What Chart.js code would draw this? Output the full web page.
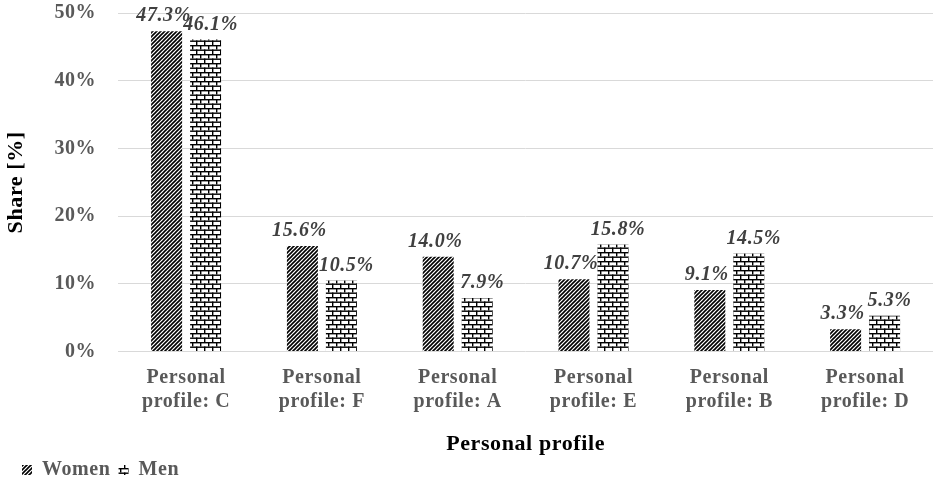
<!DOCTYPE html>
<html><head><meta charset="utf-8">
<script src="https://cdn.jsdelivr.net/npm/chart.js@4"></script>
<style>html,body{margin:0;padding:0;background:#fff}#wrap{width:933px;height:482px;position:relative}</style>
</head><body><div id="wrap"><canvas id="c" width="933" height="482"></canvas></div>
<script>
const categories = [["Personal","profile: C"],["Personal","profile: F"],["Personal","profile: A"],["Personal","profile: E"],["Personal","profile: B"],["Personal","profile: D"]];
const women = [47.3, 15.6, 14.0, 10.7, 9.1, 3.3];
const men = [46.1, 10.5, 7.9, 15.8, 14.5, 5.3];
const yTicks = [0, 10, 20, 30, 40, 50];

function diagPattern(){
  const t=document.createElement('canvas');t.width=4;t.height=4;
  const g=t.getContext('2d');g.fillStyle='#fff';g.fillRect(0,0,4,4);
  g.strokeStyle='#000';g.lineWidth=1.6;
  g.beginPath();
  g.moveTo(-1,5);g.lineTo(5,-1);
  g.moveTo(-1,1);g.lineTo(1,-1);
  g.moveTo(3,5);g.lineTo(5,3);
  g.stroke();
  return t;
}
function brickPattern(){
  const t=document.createElement('canvas');t.width=16;t.height=9;
  const g=t.getContext('2d');g.fillStyle='#fff';g.fillRect(0,0,16,9);
  g.fillStyle='#000';
  g.fillRect(0,0,16,1.4);g.fillRect(0,4.5,16,1.4);
  g.fillRect(0,0,1.4,4.5);g.fillRect(8,0,1.4,4.5);
  g.fillRect(4,4.5,1.4,4.5);g.fillRect(12,4.5,1.4,4.5);
  return t;
}
const ctx=document.getElementById('c').getContext('2d');
const pw=ctx.createPattern(diagPattern(),'repeat');
const pm=ctx.createPattern(brickPattern(),'repeat');
const FONT='"Liberation Serif", "Times New Roman", serif';

const spacingPlugin={id:'spacing',
  beforeLayout(chart){chart.ctx.letterSpacing='0.6px';},
  afterLayout(chart){ if(chart.legend){chart.legend.left+=11;} },
  beforeDraw(chart){chart.ctx.letterSpacing='0.6px';}
};
const labelPlugin={id:'vals',afterDatasetsDraw(chart){
  const c=chart.ctx;c.save();
  c.font='italic bold 20px '+FONT;c.fillStyle='#404040';c.textAlign='center';c.textBaseline='middle';
  const dx=[-3,5];
  chart.data.datasets.forEach((ds,i)=>{
    chart.getDatasetMeta(i).data.forEach((bar,j)=>{
      c.fillText(ds.data[j].toFixed(1)+'%',bar.x+dx[i],bar.y-15);
    });
  });
  c.restore();
}};

new Chart(ctx,{type:'bar',
 data:{labels:categories,datasets:[
  {label:'Women',data:women,backgroundColor:pw,borderWidth:0},
  {label:'Men',data:men,backgroundColor:pm,borderWidth:0}
 ]},
 options:{responsive:false,animation:false,
  layout:{padding:{top:13,right:0,left:3,bottom:-8}},
  categoryPercentage:0.574,barPercentage:0.795,
  plugins:{tooltip:{enabled:false},
   legend:{position:'bottom',align:'start',
    labels:{boxWidth:10,boxHeight:10,padding:8,color:'#595959',font:{family:FONT,size:20,weight:'bold'}}}},
  scales:{
   x:{grid:{display:false},border:{display:false},
    ticks:{color:'#595959',font:{family:FONT,size:20,weight:'bold'},padding:6,maxRotation:0},
    title:{display:true,text:'Personal profile',color:'#000',font:{family:FONT,size:22,weight:'bold'},padding:{top:12,bottom:-6}}},
   y:{min:0,max:50,afterBuildTicks(ax){ax.ticks=yTicks.map(v=>({value:v}));},
    afterFit(s){s.paddingTop=0;s.paddingBottom=0;},
    grid:{color:'#d9d9d9',drawTicks:false},border:{display:false},
    ticks:{color:'#595959',font:{family:FONT,size:20,weight:'bold'},padding:22,callback:v=>v+'%'},
    title:{display:true,text:'Share [%]',color:'#000',font:{family:FONT,size:22,weight:'bold'},padding:{top:0,bottom:3}}}
  }
 },
 plugins:[spacingPlugin,labelPlugin]
});
</script></body></html>
